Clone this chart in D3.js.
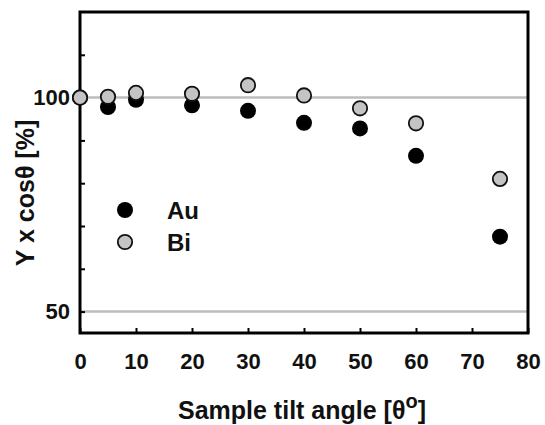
<!DOCTYPE html>
<html>
<head>
<meta charset="utf-8">
<script src="https://cdn.jsdelivr.net/npm/d3@7"></script>
<style>
  body { margin: 0; background: #fff; }
  svg text { font-family: Arial, "Liberation Sans", sans-serif; font-weight: bold; }
</style>
</head>
<body>
<div id="chart"></div>
<script>
// data
var angles = [0, 5, 10, 20, 30, 40, 50, 60, 75];
var au = [100, 97.8, 99.5, 98.2, 96.9, 94.1, 92.8, 86.4, 67.5];
var bi = [100, 100.2, 101.1, 100.9, 102.9, 100.5, 97.5, 94.0, 81.0];
var xTicks = [0, 10, 20, 30, 40, 50, 60, 70, 80];
var yTicks = [50, 60, 70, 80, 90, 100, 110];
var yLabels = [50, 100];
var refLines = [50, 100];

var width = 545, height = 425;
var margin = {top: 12, right: 17, bottom: 92, left: 80};

var svg = d3.select('#chart').append('svg')
    .attr('width', width)
    .attr('height', height);

var x = d3.scaleLinear().domain([0, 80]).range([margin.left, width - margin.right]);
var y = d3.scaleLinear().domain([45, 120]).range([height - margin.bottom, margin.top]);

//reference lines
svg.append('g')
    .selectAll('line')
    .data(refLines)
    .enter().append('line')
    .attr('x1', x(0)).attr('x2', x(80))
    .attr('y1', function(d){ return y(d); })
    .attr('y2', function(d){ return y(d); })
    .attr('stroke', '#bdbdbd')
    .attr('stroke-width', 2.5);

//axes with inward ticks
var xAxis = svg.append('g')
    .attr('transform', 'translate(0,' + y(45) + ')')
    .call(d3.axisBottom(x).tickValues(xTicks).tickSize(-5).tickPadding(20));
xAxis.selectAll('text').style('font-size', '22px').attr('fill', '#111');

var yAxis = svg.append('g')
    .attr('transform', 'translate(' + x(0) + ',0)')
    .call(d3.axisLeft(y).tickValues(yTicks).tickSize(-5).tickPadding(10)
        .tickFormat(function(d){ return yLabels.indexOf(d) >= 0 ? d : ''; }));
yAxis.selectAll('text').style('font-size', '22px').attr('fill', '#111');

svg.selectAll('.domain').remove();
svg.selectAll('.tick line').attr('stroke', '#000').attr('stroke-width', 2);

//frame
svg.append('rect')
    .attr('x', x(0)).attr('y', y(120))
    .attr('width', x(80) - x(0))
    .attr('height', y(45) - y(120))
    .attr('fill', 'none')
    .attr('stroke', '#000')
    .attr('stroke-width', 3);

//points
var r = 8;
svg.append('g').selectAll('circle')
    .data(angles.map(function(a, i){ return [a, au[i]]; }))
    .enter().append('circle')
    .attr('cx', function(d){ return x(d[0]); })
    .attr('cy', function(d){ return y(d[1]); })
    .attr('r', r)
    .attr('fill', '#000');

svg.append('g').selectAll('circle')
    .data(angles.map(function(a, i){ return [a, bi[i]]; }))
    .enter().append('circle')
    .attr('cx', function(d){ return x(d[0]); })
    .attr('cy', function(d){ return y(d[1]); })
    .attr('r', r - 0.8)
    .attr('fill', '#c4c4c4')
    .attr('stroke', '#111')
    .attr('stroke-width', 1.8);

//legend
var legend = [{name: 'Au', fill: '#000', stroke: 'none'}, {name: 'Bi', fill: '#c4c4c4', stroke: '#111'}];
var lg = svg.append('g').selectAll('g')
    .data(legend)
    .enter().append('g')
    .attr('transform', function(d, i){ return 'translate(125,' + (210 + i * 32) + ')'; });
lg.append('circle')
    .attr('r', function(d){ return d.stroke == 'none' ? r : r - 0.8; })
    .attr('fill', function(d){ return d.fill; })
    .attr('stroke', function(d){ return d.stroke; })
    .attr('stroke-width', 1.8);
lg.append('text')
    .attr('x', 42)
    .attr('dy', '0.36em')
    .style('font-size', '24px')
    .attr('fill', '#111')
    .text(function(d){ return d.name; });

//axis titles
var xt = svg.append('text')
    .attr('x', 302).attr('y', 419)
    .attr('text-anchor', 'middle')
    .style('font-size', '25px')
    .attr('fill', '#111');
xt.append('tspan').text('Sample tilt angle [\u03B8');
xt.append('tspan').attr('dy', -11).style('font-size', '20px').text('o');
xt.append('tspan').attr('dy', 11).text(']');

svg.append('text')
    .attr('transform', 'translate(34,193) rotate(-90)')
    .attr('text-anchor', 'middle')
    .style('font-size', '25px')
    .attr('fill', '#111')
    .text('Y x cos\u03B8 [%]');
</script>
</body>
</html>
